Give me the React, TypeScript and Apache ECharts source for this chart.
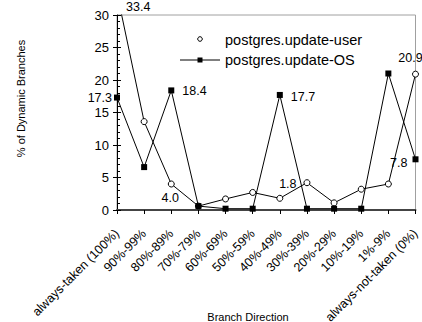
import React, { useEffect, useRef } from "react";
import * as echarts from "echarts";

const categories = [
  "always-taken (100%)",
  "90%-99%",
  "80%-89%",
  "70%-79%",
  "60%-69%",
  "50%-59%",
  "40%-49%",
  "30%-39%",
  "20%-29%",
  "10%-19%",
  "1%-9%",
  "always-not-taken (0%)",
];
const userValues = [33.4, 13.6, 4.0, 0.6, 1.7, 2.7, 1.8, 4.2, 1.1, 3.2, 4.0, 20.9];
const osValues = [17.3, 6.6, 18.4, 0.6, 0.2, 0.2, 17.7, 0.2, 0.2, 0.2, 21.0, 7.8];
const yMin = 0;
const yMax = 30;
const yInterval = 5;
const userName = "postgres.update-user";
const osName = "postgres.update-OS";
const yTitle = "% of Dynamic Branches";
const xTitle = "Branch Direction";

const FONT = "'Liberation Sans', Arial, sans-serif";

// label styling for selected points (style only)
const userLabelStyle: Record<number, any> = {
  2: { position: "bottom", distance: 4, offset: [-1, 0] },
  6: { position: "top", distance: 4, offset: [8, 0] },
  11: { position: "top", distance: 6, offset: [-5, 0] },
};
const osLabelStyle: Record<number, any> = {
  0: { position: "left", distance: 2, offset: [0, 0] },
  2: { position: "right", distance: 8, offset: [0, 1] },
  6: { position: "right", distance: 8, offset: [0, 2] },
  11: { position: "left", distance: 5, offset: [0, 4] },
};

function buildData(values: number[], styles: Record<number, any>) {
  return values.map((v, i) =>
    styles[i]
      ? {
          value: v,
          label: {
            show: true,
            formatter: v.toFixed(1),
            color: "#000",
            opacity: 1,
            textBorderWidth: 0,
            textBorderColor: "transparent",
            fontSize: 12.5,
            fontFamily: FONT,
            ...styles[i],
          },
        }
      : { value: v }
  );
}

export default function App() {
  const ref = useRef<HTMLDivElement>(null);
  useEffect(() => {
    if (!ref.current) return;
    const chart = echarts.init(ref.current, null, { renderer: "svg" });
    const option: any = {
      animation: false,
      backgroundColor: "#fff",
      textStyle: { fontFamily: FONT },
      grid: {
        left: 117,
        right: 6.5,
        top: 15,
        bottom: 112,
        containLabel: false,
        outerBoundsMode: "none",
        show: true,
        borderColor: "#a0a0a0",
        borderWidth: 1,
        backgroundColor: "transparent",
      },
      xAxis: {
        type: "category",
        data: categories,
        boundaryGap: false,
        axisLine: { lineStyle: { color: "#444", width: 2 } },
        axisTick: { show: true, inside: false, length: 4, interval: 0, lineStyle: { color: "#000" } },
        axisLabel: {
          interval: 0,
          rotate: 45,
          margin: 21.5,
          fontSize: 12.5,
          color: "#000",
          fontFamily: FONT,
          hideOverlap: false,
        },
        splitLine: { show: false },
      },
      yAxis: [
        {
          type: "value",
          position: "left",
          min: yMin,
          max: yMax,
          interval: yInterval,
          axisLine: { show: true, lineStyle: { color: "#000", width: 1 } },
          axisTick: { show: true, inside: false, length: 4, lineStyle: { color: "#000" } },
          axisLabel: { margin: 8, fontSize: 13, color: "#000", fontFamily: FONT },
          splitLine: { show: false },
        },
        {
          type: "value",
          position: "left",
          min: yMin,
          max: yMax,
          interval: yInterval,
          axisLine: { show: false },
          axisTick: { show: true, inside: true, length: 4, lineStyle: { color: "#000" } },
          minorTick: { show: true, splitNumber: 5, length: 3, lineStyle: { color: "#000" } },
          axisLabel: { show: false },
          splitLine: { show: false },
        },
      ],
      series: [
        {
          name: userName,
          type: "line",
          yAxisIndex: 0,
          data: buildData(userValues, userLabelStyle),
          symbol: "circle",
          symbolSize: 6,
          showAllSymbol: true,
          clip: true,
          itemStyle: { color: "#fff", borderColor: "#000", borderWidth: 1 },
          lineStyle: { color: "#000", width: 1 },
          label: { show: false },
        },
        {
          name: osName,
          type: "line",
          yAxisIndex: 0,
          data: buildData(osValues, osLabelStyle),
          symbol: "rect",
          symbolSize: 6,
          showAllSymbol: true,
          clip: true,
          itemStyle: { color: "#000", borderColor: "#000", borderWidth: 0 },
          lineStyle: { color: "#000", width: 1 },
          label: { show: false },
        },
      ],
      graphic: [],
    };
    chart.setOption(option);

    const top = chart.convertToPixel({ xAxisIndex: 0, yAxisIndex: 0 }, [0, yMax]) as number[];
    const graphic: any[] = [
      {
        type: "text",
        x: top[0] + 9,
        y: top[1] - 8,
        style: {
          text: userValues[0].toFixed(1),
          fill: "#000",
          font: `12.5px ${FONT}`,
          align: "left",
          verticalAlign: "middle",
        },
      },
      // legend
      {
        type: "circle",
        shape: { cx: 200, cy: 39, r: 2.3 },
        style: { fill: "#fff", stroke: "#000", lineWidth: 1 },
      },
      {
        type: "text",
        x: 225,
        y: 40,
        style: { text: userName, fill: "#000", font: `14.5px ${FONT}`, align: "left", verticalAlign: "middle" },
      },
      {
        type: "line",
        shape: { x1: 180, y1: 60, x2: 220, y2: 60 },
        style: { stroke: "#000", lineWidth: 1 },
      },
      {
        type: "rect",
        shape: { x: 197.5, y: 57.5, width: 5, height: 5 },
        style: { fill: "#000" },
      },
      {
        type: "text",
        x: 225,
        y: 60,
        style: { text: osName, fill: "#000", font: `14.5px ${FONT}`, align: "left", verticalAlign: "middle" },
      },
      // axis titles
      {
        type: "text",
        x: 21,
        y: 98.5,
        rotation: Math.PI / 2,
        style: { text: yTitle, fill: "#000", font: `11px ${FONT}`, align: "center", verticalAlign: "middle" },
      },
      {
        type: "text",
        x: 248,
        y: 317,
        style: { text: xTitle, fill: "#000", font: `11px ${FONT}`, align: "center", verticalAlign: "middle" },
      },
    ];
    chart.setOption({ graphic });
    return () => chart.dispose();
  }, []);
  return (
    <div
      ref={ref}
      style={{ position: "fixed", left: 0, top: 0, width: 422, height: 322, background: "#fff" }}
    />
  );
}
